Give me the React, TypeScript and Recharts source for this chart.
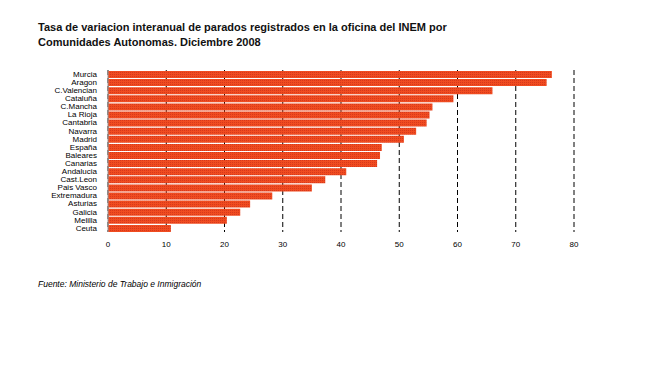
import React from 'react';
import { BarChart, Bar, XAxis, YAxis, CartesianGrid } from 'recharts';

const regions = [
  'Murcia', 'Aragon', 'C.Valencian', 'Cataluña', 'C.Mancha', 'La Rioja', 'Cantabria', 'Navarra',
  'Madrid', 'España', 'Baleares', 'Canarias', 'Andalucia', 'Cast.Leon', 'Pais Vasco',
  'Extremadura', 'Asturias', 'Galicia', 'Melilla', 'Ceuta',
];
const rates = [
  76.2, 75.3, 66.0, 59.3, 55.7, 55.2, 54.7, 52.9, 50.8, 47.0, 46.7, 46.2, 40.9, 37.3, 35.0,
  28.2, 24.4, 22.7, 20.4, 10.8,
];
const xTicks = [0, 10, 20, 30, 40, 50, 60, 70, 80];

const data = regions.map((name, i) => ({ name, value: rates[i] }));

const font = '"Liberation Sans", Arial, sans-serif';

const App: React.FC = () => {
  return (
    <div style={{ position: 'absolute', left: 0, top: 0, width: 650, height: 390, background: '#fff', fontFamily: font }}>
      <div style={{ position: 'absolute', left: 38, top: 20, fontSize: 11, fontWeight: 'bold', lineHeight: '15px', color: '#111' }}>
        Tasa de variacion interanual de parados registrados en la oficina del INEM por<br />
        Comunidades Autonomas. Diciembre 2008
      </div>
      <BarChart
        width={650}
        height={390}
        data={data}
        layout="vertical"
        margin={{ top: 70, right: 76, left: 0, bottom: 138 }}
        barCategoryGap={1}
      >
        <defs>
          <pattern id="dots" width="2" height="2" patternUnits="userSpaceOnUse">
            <rect width="2" height="2" fill="#f04c20" />
            <rect width="1" height="1" fill="#d8381c" />
          </pattern>
        </defs>
        <CartesianGrid horizontal={false} stroke="#000" strokeDasharray="5 3" />
        <XAxis
          type="number"
          domain={[0, 80]}
          ticks={xTicks}
          axisLine={false}
          tickLine={false}
          tick={{ fontSize: 8, fill: '#000', fontFamily: font }}
          tickMargin={3}
          height={20}
        />
        <YAxis
          type="category"
          dataKey="name"
          width={108}
          axisLine={{ stroke: '#999' }}
          tickLine={false}
          interval={0}
          tick={{ fontSize: 8, fill: '#000', fontFamily: font }}
          tickMargin={5}
        />
        <Bar dataKey="value" fill="url(#dots)" barSize={7} isAnimationActive={false} />
      </BarChart>
      <div style={{ position: 'absolute', left: 38, top: 279, fontSize: 8.5, fontStyle: 'italic', color: '#000' }}>
        Fuente: Ministerio de Trabajo e Inmigración
      </div>
    </div>
  );
};

export default App;
